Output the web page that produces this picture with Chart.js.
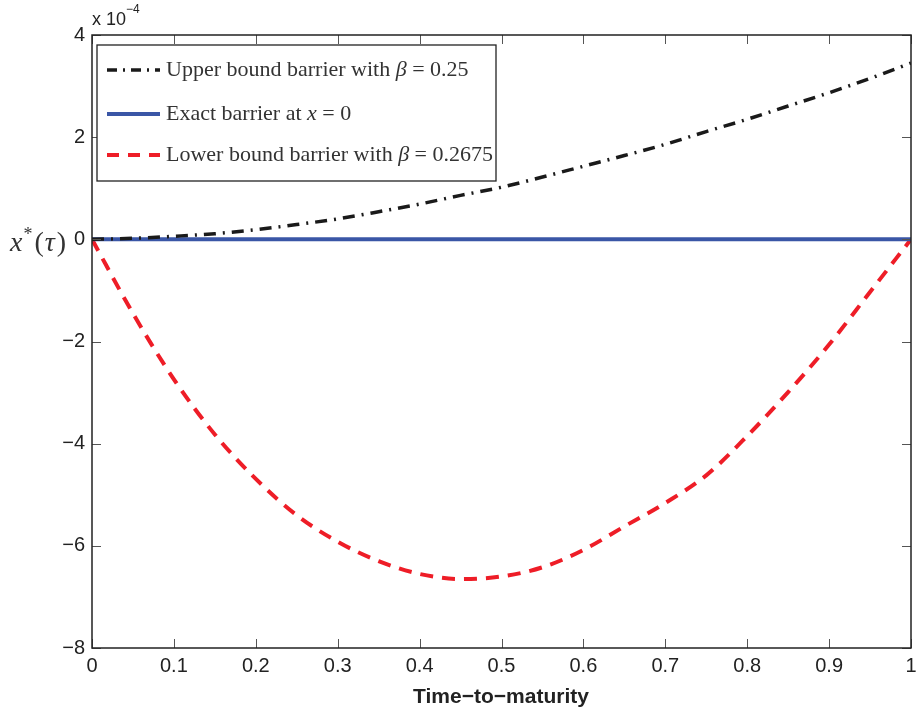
<!DOCTYPE html>
<html>
<head>
<meta charset="utf-8">
<script src="https://cdn.jsdelivr.net/npm/chart.js@4.4.1/dist/chart.umd.min.js"></script>
<style>
  html, body { margin: 0; padding: 0; background: #fff; }
  #wrap { width: 917px; height: 717px; }
</style>
</head>
<body>
<div id="wrap"><canvas id="c" width="917" height="717"></canvas></div>
<script>
// time-to-maturity grid
const tau = [0, 0.05, 0.1, 0.15, 0.2, 0.25, 0.3, 0.35, 0.4, 0.45, 0.5,
  0.55, 0.6, 0.65, 0.7, 0.75, 0.8, 0.85, 0.9, 0.95, 1];
// values in units of 1e-4
const upperBound = [0, 0.02, 0.06, 0.11, 0.19, 0.29, 0.40, 0.54, 0.69, 0.86, 1.02,
  1.22, 1.43, 1.64, 1.86, 2.11, 2.35, 2.61, 2.87, 3.15, 3.45];
const exactBarrier = tau.map(() => 0);
const lowerBound = [0, -1.45, -2.74, -3.82, -4.69, -5.40, -5.92, -6.30, -6.55, -6.65, -6.60,
  -6.42, -6.08, -5.62, -5.16, -4.62, -3.85, -2.99, -2.06, -1.03, 0];
const legendLabels = [
  "Upper bound barrier with β = 0.25",
  "Exact barrier at x = 0",
  "Lower bound barrier with β = 0.2675"
];
// same labels split into [text, italic?] pieces for drawing
const legendPieces = [
  [["Upper bound barrier with ", false], ["β", true], [" = 0.25", false]],
  [["Exact barrier at ", false], ["x", true], [" = 0", false]],
  [["Lower bound barrier with ", false], ["β", true], [" = 0.2675", false]]
];

const pts = ys => tau.map((t, i) => ({ x: t, y: ys[i] }));

const BLACK = "#1a1a1a", BLUE = "#3a56a6", RED = "#ee1d27";
const SERIF = "'Liberation Serif', 'DejaVu Serif', serif";
const SANS = "'Liberation Sans', Arial, sans-serif";

function drawPieces(ctx, pieces, x, y, size) {
  pieces.forEach(([txt, it]) => {
    ctx.font = (it ? "italic " : "") + size + "px " + SERIF;
    ctx.fillText(txt, x, y);
    x += ctx.measureText(txt).width;
  });
  return x;
}

// ticks inside the box, frame, legend and labels
const decor = {
  id: "decor",
  afterDraw(chart) {
    const ctx = chart.ctx, a = chart.chartArea;
    const xs = chart.scales.x, ys = chart.scales.y;
    ctx.save();
    ctx.strokeStyle = "#555";
    ctx.lineWidth = 1;
    const L = 9;
    xs.ticks.forEach(t => {
      const p = Math.round(xs.getPixelForValue(t.value)) + 0.5;
      ctx.beginPath();
      ctx.moveTo(p, a.bottom); ctx.lineTo(p, a.bottom - L);
      ctx.moveTo(p, a.top); ctx.lineTo(p, a.top + L);
      ctx.stroke();
    });
    ys.ticks.forEach(t => {
      const p = Math.round(ys.getPixelForValue(t.value)) + 0.5;
      ctx.beginPath();
      ctx.moveTo(a.left, p); ctx.lineTo(a.left + L, p);
      ctx.moveTo(a.right, p); ctx.lineTo(a.right - L, p);
      ctx.stroke();
    });
    ctx.strokeStyle = "#222";
    ctx.lineWidth = 1.5;
    ctx.strokeRect(a.left, a.top, a.right - a.left, a.bottom - a.top);

    // legend
    const bx = 97, by = 45, bw = 399, bh = 136;
    ctx.fillStyle = "#fff";
    ctx.fillRect(bx, by, bw, bh);
    ctx.strokeStyle = "#222";
    ctx.lineWidth = 1.3;
    ctx.strokeRect(bx, by, bw, bh);
    const styles = [
      { c: BLACK, w: 3.5, d: [10, 6, 2, 6] },
      { c: BLUE, w: 4, d: [] },
      { c: RED, w: 4, d: [12, 9] }
    ];
    const rows = [70, 114, 155];
    ctx.textBaseline = "middle";
    rows.forEach((yy, i) => {
      const s = styles[i];
      ctx.beginPath();
      ctx.setLineDash(s.d);
      ctx.strokeStyle = s.c;
      ctx.lineWidth = s.w;
      ctx.moveTo(107, yy); ctx.lineTo(160, yy);
      ctx.stroke();
      ctx.setLineDash([]);
      ctx.fillStyle = "#333";
      drawPieces(ctx, legendPieces[i], 166, yy, 22);
    });

    // exponent
    ctx.fillStyle = "#222";
    ctx.font = "18px " + SANS;
    ctx.textBaseline = "alphabetic";
    ctx.textAlign = "left";
    ctx.fillText("x 10", 92, 25);
    ctx.font = "12px " + SANS;
    ctx.fillText("−4", 126, 13);

    // y label x*(τ)
    ctx.fillStyle = "#333";
    ctx.textBaseline = "alphabetic";
    let px = 10;
    const base = 251;
    ctx.font = "italic 28px " + SERIF;
    ctx.fillText("x", px, base); px += ctx.measureText("x").width + 1;
    ctx.font = "18px " + SERIF;
    ctx.fillText("*", px, base - 11); px += ctx.measureText("*").width + 2;
    ctx.font = "28px " + SERIF;
    ctx.fillText("(", px, base); px += ctx.measureText("(").width + 1;
    ctx.font = "italic 28px " + SERIF;
    ctx.fillText("τ", px, base); px += ctx.measureText("τ").width + 2;
    ctx.font = "28px " + SERIF;
    ctx.fillText(")", px, base);

    // x title
    ctx.fillStyle = "#222";
    ctx.font = "bold 21px " + SANS;
    ctx.textAlign = "center";
    ctx.textBaseline = "middle";
    ctx.fillText("Time−to−maturity", 501, 697);
    ctx.restore();
  }
};

new Chart(document.getElementById("c"), {
  type: "line",
  data: {
    datasets: [
      {
        label: legendLabels[0],
        data: pts(upperBound),
        borderColor: BLACK,
        borderWidth: 3.5,
        borderDash: [12, 7, 2, 7],
        pointRadius: 0,
        cubicInterpolationMode: "monotone"
      },
      {
        label: legendLabels[1],
        data: pts(exactBarrier),
        borderColor: BLUE,
        borderWidth: 4,
        pointRadius: 0
      },
      {
        label: legendLabels[2],
        data: pts(lowerBound),
        borderColor: RED,
        borderWidth: 4,
        borderDash: [13, 9],
        pointRadius: 0,
        cubicInterpolationMode: "monotone"
      }
    ]
  },
  options: {
    responsive: false,
    animation: false,
    layout: { padding: { top: 35, right: 6, left: 0, bottom: 0 } },
    plugins: { legend: { display: false }, tooltip: { enabled: false } },
    scales: {
      x: {
        type: "linear",
        min: 0, max: 1,
        afterFit: s => { s.height = 69; s.paddingRight = 0; },
        grid: { display: false },
        border: { display: false },
        ticks: {
          stepSize: 0.1,
          padding: -2,
          color: "#222",
          font: { family: SANS, size: 20 },
          callback: v => String(+v.toFixed(1))
        }
      },
      y: {
        min: -8, max: 4,
        afterFit: s => { s.width = 92; },
        grid: { display: false },
        border: { display: false },
        ticks: {
          stepSize: 2,
          padding: -1,
          color: "#222",
          font: { family: SANS, size: 20 },
          callback: v => (v < 0 ? "−" + Math.abs(v) : String(v))
        }
      }
    }
  },
  plugins: [decor]
});
</script>
</body>
</html>
